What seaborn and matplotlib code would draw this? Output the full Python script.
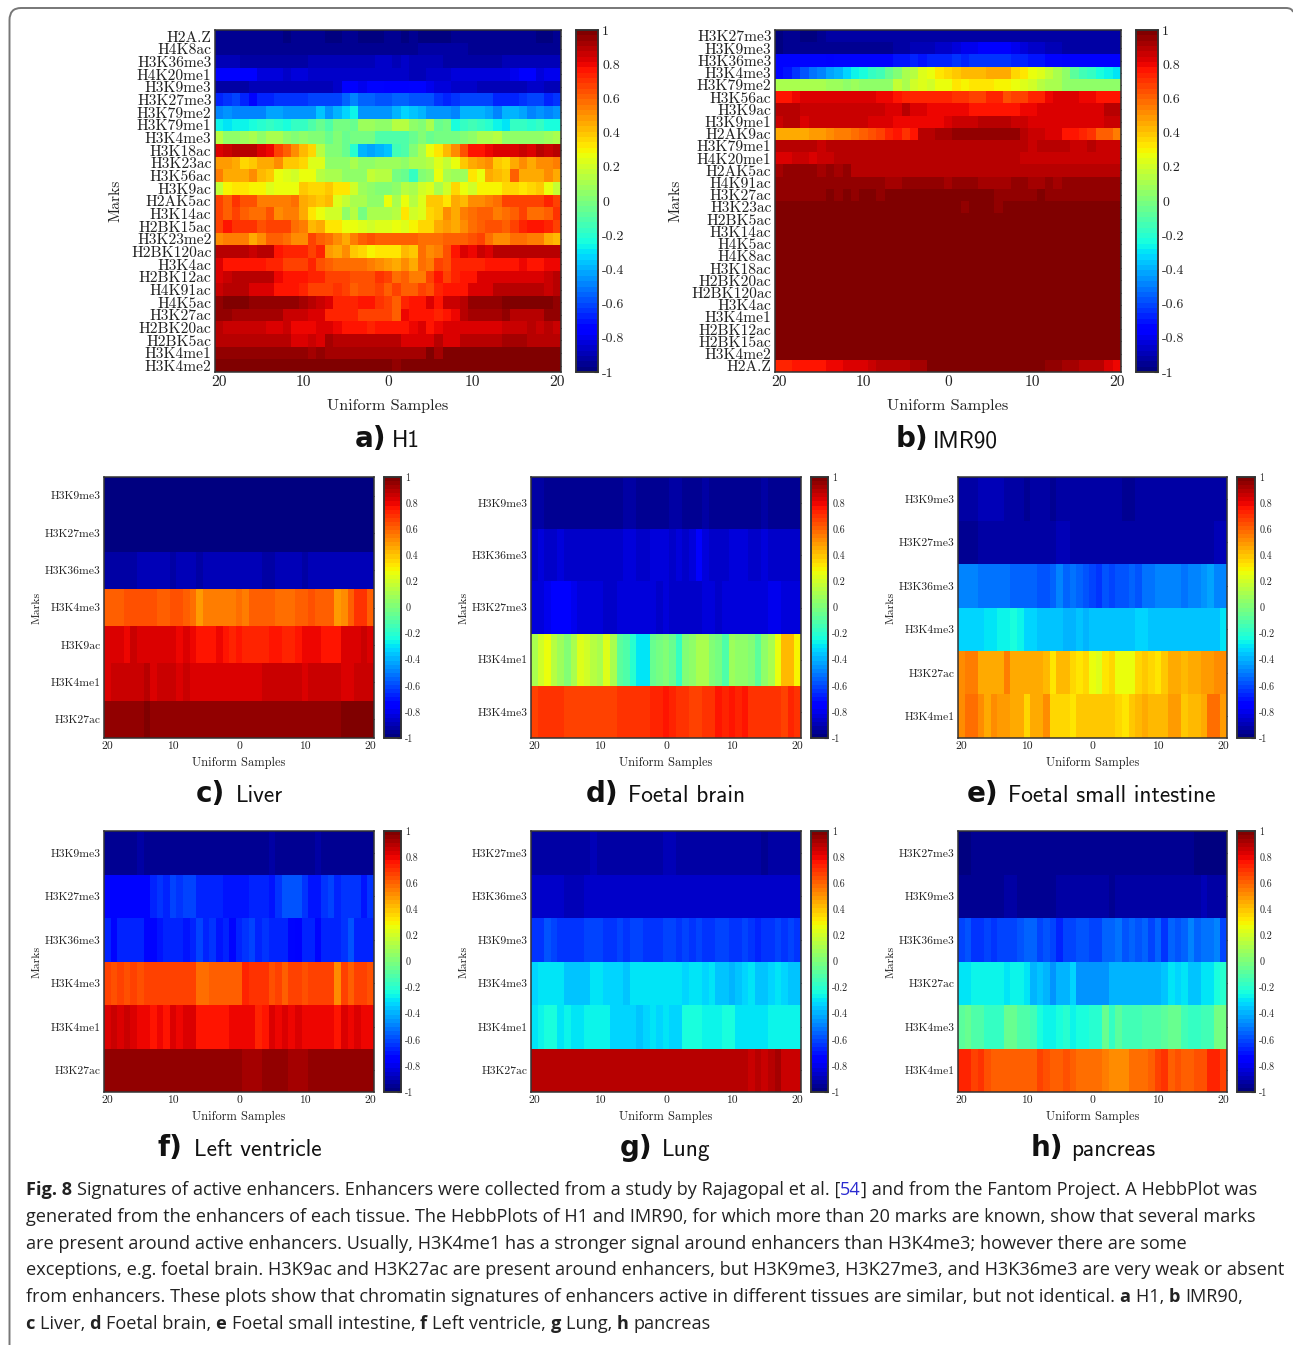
import matplotlib
matplotlib.use('Agg')
import matplotlib.pyplot as plt
from matplotlib.patches import PathPatch
from matplotlib.path import Path
import pandas as pd
import seaborn as sns

W, H = 1293, 1345

h1_marks = ['H2A.Z', 'H4K8ac', 'H3K36me3', 'H4K20me1', 'H3K9me3', 'H3K27me3', 'H3K79me2', 'H3K79me1', 'H3K4me3',
            'H3K18ac', 'H3K23ac', 'H3K56ac', 'H3K9ac', 'H2AK5ac', 'H3K14ac', 'H2BK15ac', 'H3K23me2', 'H2BK120ac',
            'H3K4ac', 'H2BK12ac', 'H4K91ac', 'H4K5ac', 'H3K27ac', 'H2BK20ac', 'H2BK5ac', 'H3K4me1', 'H3K4me2']
h1_values = [
    [-.95,-.95,-.95,-.95,-.95,-.95,-.95,-.96,-.97,-.95, -.95,-.95,-.96,-.97,-.97,-.96,-.95,-.97,-.97,-.97, -.96, -.96,-.98,-.96,-.97,-.98,-.98,-.98,-.96,-.96,-.96, -.96,-.96,-.94,-.95,-.95,-.95,-.95,-.97,-.97,-.96],
    [-.95,-.95,-.95,-.95,-.95,-.95,-.95,-.95,-.95,-.95, -.95,-.95,-.95,-.95,-.95,-.95,-.95,-.95,-.95,-.95, -.95, -.95,-.95,-.94,-.93,-.93,-.93,-.93,-.93,-.93,-.94, -.94,-.94,-.94,-.94,-.94,-.94,-.94,-.94,-.94,-.94],
    [-.9,-.89,-.89,-.92,-.92,-.92,-.92,-.92,-.92,-.92, -.92,-.9,-.9,-.9,-.9,-.9,-.9,-.88,-.88,-.87, -.86, -.88,-.86,-.88,-.9,-.9,-.9,-.92,-.93,-.93,-.93, -.93,-.93,-.92,-.9,-.9,-.9,-.9,-.9,-.9,-.9],
    [-.76,-.78,-.78,-.78,-.78,-.82,-.82,-.84,-.85,-.84, -.84,-.85,-.86,-.86,-.86,-.87,-.87,-.87,-.86,-.85, -.87, -.87,-.87,-.88,-.88,-.86,-.85,-.85,-.84,-.84,-.84, -.84,-.83,-.84,-.84,-.8,-.78,-.78,-.82,-.8,-.8],
    [-.92,-.92,-.92,-.93,-.9,-.9,-.9,-.88,-.9,-.9, -.88,-.88,-.88,-.88,-.85,-.78,-.76,-.8,-.72,-.72, -.76, -.76,-.76,-.72,-.74,-.8,-.82,-.84,-.86,-.86,-.86, -.88,-.88,-.9,-.9,-.88,-.88,-.86,-.86,-.9,-.9],
    [-.68,-.64,-.62,-.66,-.72,-.66,-.68,-.64,-.64,-.64, -.64,-.62,-.62,-.6,-.6,-.56,-.5,-.56,-.56,-.58, -.58, -.54,-.54,-.58,-.58,-.58,-.64,-.66,-.64,-.62,-.62, -.62,-.62,-.68,-.68,-.68,-.64,-.62,-.62,-.66,-.64],
    [-.5,-.44,-.48,-.5,-.5,-.5,-.42,-.42,-.46,-.46, -.44,-.44,-.36,-.44,-.4,-.34,-.28,-.46,-.46,-.46, -.44, -.38,-.34,-.36,-.4,-.44,-.44,-.44,-.48,-.38,-.4, -.38,-.42,-.48,-.4,-.38,-.42,-.5,-.44,-.48,-.46],
    [-.28,-.3,-.28,-.28,-.22,-.2,-.16,-.2,-.22,-.16, -.16,-.1,-.04,-.1,-.02,-.02,-.04,.08,.08,.06, .04, .14,.14,.04,.02,.1,-.06,-.02,-.24,-.16,-.14, -.16,-.2,-.26,-.3,-.16,-.16,-.2,-.16,-.22,-.24],
    [.14,.06,.06,.08,.1,.06,.1,.12,.04,.02, .06,.02,.02,-.04,.02,-.06,-.02,-.02,-.02,-.1, -.1, -.12,-.12,-.04,0,-.06,-.02,-.01,-.02,.02,.06, .1,.1,.14,.06,.04,.04,.06,.06,.08,.1],
    [.83,.87,.9,.9,.88,.83,.8,.68,.62,.52, .42,.35,.15,.02,0,-.05,-.2,-.4,-.42,-.38, -.35, -.15,-.1,0,.12,.28,.33,.42,.52,.64,.78, .78,.8,.82,.82,.84,.86,.84,.88,.86,.88],
    [.48,.48,.45,.36,.4,.45,.45,.52,.38,.38, .36,.22,.22,.06,.04,.04,.1,.05,.04,.08, .07, .08,.05,.1,.1,.14,.24,.18,.26,.4,.46, .48,.5,.4,.36,.44,.5,.46,.52,.52,.56],
    [.56,.45,.44,.44,.5,.42,.4,.28,.22,.2, .25,.25,.15,.12,.12,.06,.06,.06,.18,.15, .15, -.02,-.06,-.18,.02,.05,.25,.1,.08,.07,.32, .28,.44,.42,.4,.62,.45,.45,.45,.52,.45],
    [.18,.3,.32,.32,.3,.3,.24,.28,.28,.25, .38,.36,.36,.4,.32,.32,.2,.08,.05,.02, 0, .04,.14,.12,.2,.22,.1,.2,.36,.25,.2, .3,.3,.3,.36,.36,.34,.36,.38,.28,.18],
    [.68,.62,.7,.64,.64,.55,.55,.55,.55,.58, .44,.42,.38,.42,.24,.16,.12,.1,.04,.06, .25, .12,.26,.14,.22,.4,.4,.32,.44,.42,.52, .52,.55,.58,.68,.68,.68,.68,.68,.72,.68],
    [.66,.62,.68,.62,.58,.58,.64,.52,.54,.56, .46,.33,.28,.2,.2,.05,.14,-.02,.1,.1, .1, .14,.32,.2,.22,.35,.38,.52,.46,.54,.58, .62,.62,.56,.58,.62,.68,.58,.58,.62,.7],
    [.68,.76,.7,.7,.7,.64,.67,.67,.67,.58, .54,.42,.46,.34,.32,.26,.26,.22,.2,.24, .24, .28,.24,.3,.36,.36,.44,.48,.44,.52,.58, .62,.64,.64,.62,.67,.72,.76,.78,.72,.66],
    [.5,.56,.56,.54,.46,.5,.62,.62,.58,.52, .52,.68,.62,.58,.52,.44,.54,.62,.64,.62, .62, .6,.62,.62,.58,.58,.58,.62,.6,.62,.64, .66,.58,.5,.5,.58,.58,.54,.54,.46,.42],
    [.88,.88,.88,.88,.86,.9,.88,.78,.74,.74, .74,.68,.72,.48,.46,.5,.4,.36,.3,.34, .34, .34,.42,.4,.58,.52,.54,.64,.76,.82,.8, .85,.82,.88,.9,.9,.9,.88,.88,.88,.9],
    [.84,.76,.76,.76,.76,.76,.72,.72,.68,.68, .68,.74,.64,.62,.58,.58,.58,.58,.54,.52, .48, .46,.52,.46,.58,.54,.68,.64,.72,.72,.72, .72,.78,.76,.76,.76,.8,.76,.76,.8,.8],
    [.84,.85,.88,.88,.88,.9,.88,.8,.78,.76, .76,.72,.72,.68,.68,.68,.64,.64,.64,.7, .66, .58,.62,.54,.56,.66,.76,.68,.72,.76,.78, .82,.84,.84,.84,.84,.82,.82,.82,.86,.88],
    [.86,.88,.9,.88,.82,.84,.82,.76,.76,.76, .74,.68,.66,.66,.7,.66,.6,.64,.64,.68, .62, .68,.6,.6,.68,.64,.74,.76,.76,.78,.82, .84,.84,.88,.88,.88,.88,.88,.88,.86,.88],
    [.96,.98,.98,.98,.96,.94,.94,.94,.96,.96, .92,.88,.86,.82,.74,.74,.74,.76,.76,.7, .68, .6,.74,.76,.78,.82,.78,.86,.86,.9,.94, .94,.96,.94,.98,.98,.98,.98,.98,.98,.96],
    [.96,.96,.92,.92,.92,.92,.92,.92,.85,.86, .86,.82,.84,.72,.72,.72,.72,.68,.68,.68, .68, .62,.8,.76,.78,.78,.72,.78,.8,.88,.92, .92,.92,.92,.96,.9,.9,.9,.9,.96,.96],
    [.9,.86,.86,.86,.86,.86,.84,.84,.86,.8, .8,.8,.84,.84,.8,.76,.78,.78,.74,.76, .78, .75,.78,.8,.82,.76,.8,.84,.82,.82,.84, .84,.84,.84,.86,.86,.86,.9,.86,.9,.86],
    [.88,.88,.88,.88,.88,.88,.88,.88,.88,.84, .82,.86,.84,.92,.88,.88,.88,.88,.88,.88, .88, .88,.84,.84,.84,.84,.9,.84,.84,.88,.88, .9,.9,.9,.92,.92,.92,.9,.9,.9,.9],
    [.96,.96,.96,.96,.96,.96,.96,.96,.96,.96, .96,.92,.96,.93,.93,.93,.93,.93,.93,.93, .93, .93,.93,.93,.93,.97,.93,.97,.97,.97,.97, .97,.97,.97,.97,.97,.97,.97,.97,.97,.97],
    [1,1,1,1,1,1,1,1,1,1, 1,1,1,1,.98,.97,.98,.98,.98,.98, .98, .96,.98,.98,.98,1,1,1,1,1,1, 1,1,1,1,1,1,1,.98,.98,.98],
]

imr90_marks = ['H3K27me3', 'H3K9me3', 'H3K36me3', 'H3K4me3', 'H3K79me2', 'H3K56ac', 'H3K9ac', 'H3K9me1', 'H2AK9ac',
               'H3K79me1', 'H4K20me1', 'H2AK5ac', 'H4K91ac', 'H3K27ac', 'H3K23ac', 'H2BK5ac', 'H3K14ac', 'H4K5ac',
               'H4K8ac', 'H3K18ac', 'H2BK20ac', 'H2BK120ac', 'H3K4ac', 'H3K4me1', 'H2BK12ac', 'H2BK15ac',
               'H3K4me2', 'H2A.Z']
imr90_values = [
    [-.98,-.96,-.94,-.97,-.97,-.95,-.93,-.93,-.93,-.93, -.93,-.93,-.93,-.93,-.93,-.93,-.91,-.91,-.91,-.91, -.91, -.91,-.91,-.91,-.91,-.91,-.91,-.91,-.91,-.91,-.91, -.91,-.93,-.93,-.93,-.93,-.93,-.93,-.93,-.93,-.93],
    [-.98,-.96,-.95,-.95,-.95,-.95,-.95,-.95,-.95,-.95, -.95,-.95,-.95,-.95,-.93,-.93,-.9,-.9,-.9,-.86, -.86, -.83,-.8,-.8,-.78,-.78,-.78,-.78,-.8,-.82,-.85, -.87,-.9,-.9,-.92,-.92,-.92,-.92,-.92,-.92,-.92],
    [-.74,-.74,-.74,-.74,-.74,-.74,-.78,-.74,-.74,-.74, -.74,-.74,-.72,-.72,-.7,-.7,-.68,-.7,-.68,-.66, -.66, -.64,-.68,-.64,-.64,-.64,-.64,-.64,-.66,-.68,-.7, -.7,-.72,-.74,-.76,-.76,-.78,-.78,-.76,-.76,-.76],
    [-.75,-.7,-.65,-.58,-.52,-.48,-.42,-.38,-.32,-.26, -.25,-.18,-.14,-.05,.02,.1,.15,.22,.28,.34, .36, .4,.43,.43,.43,.44,.44,.44,.35,.33,.25, .22,.18,.12,.06,-.08,-.15,-.18,-.24,-.28,-.3],
    [.12,.12,.1,.1,.1,.1,.08,.08,.06,.07, .06,.06,.05,.05,.16,.12,.2,.24,.2,.26, .28, .34,.3,.32,.32,.34,.3,.3,.28,.24,.2, .14,.12,.1,.06,.05,.05,.05,.04,.04,.04],
    [.76,.76,.8,.82,.82,.82,.82,.82,.84,.84, .84,.84,.8,.8,.78,.74,.74,.72,.72,.72, .72, .7,.7,.68,.68,.72,.72,.64,.68,.68,.72, .72,.8,.82,.82,.82,.8,.8,.76,.76,.76],
    [.88,.88,.88,.86,.86,.86,.86,.86,.86,.86, .86,.86,.86,.84,.84,.88,.84,.84,.8,.8, .8, .8,.8,.78,.78,.78,.78,.78,.78,.8,.8, .84,.84,.84,.84,.84,.84,.84,.84,.88,.88],
    [.86,.9,.9,.82,.86,.86,.86,.86,.86,.86, .86,.82,.82,.82,.8,.8,.8,.8,.8,.8, .82, .86,.86,.86,.88,.88,.88,.88,.86,.86,.84, .84,.84,.84,.84,.84,.84,.84,.84,.86,.86],
    [.46,.46,.46,.46,.48,.48,.52,.56,.56,.58, .6,.65,.68,.72,.76,.7,.78,.88,.88,.92, .92, .95,.95,.95,.95,.95,.95,.95,.95,.9,.86, .85,.82,.82,.78,.76,.74,.7,.62,.6,.54],
    [.9,.9,.88,.88,.9,.86,.88,.88,.88,.88, .88,.88,.88,.88,.88,.88,.88,.88,.88,.88, .88, .88,.88,.88,.88,.88,.9,.88,.88,.88,.86, .88,.9,.9,.9,.86,.86,.88,.86,.86,.86],
    [.84,.84,.87,.87,.84,.85,.85,.88,.88,.88, .88,.88,.88,.88,.88,.88,.88,.88,.88,.88, .88, .88,.88,.9,.9,.88,.88,.88,.88,.86,.86, .86,.86,.86,.86,.86,.86,.86,.86,.86,.86],
    [.92,.94,.94,.94,.94,.92,.94,.92,.94,.9, .9,.9,.9,.9,.9,.88,.88,.88,.9,.9, .9, .88,.9,.9,.88,.9,.9,.88,.88,.88,.88, .88,.88,.88,.9,.9,.9,.9,.9,.9,.9],
    [.94,.94,.94,.94,.94,.94,.94,.94,.94,.94, .94,.94,.94,.92,.92,.94,.94,.94,.94,.94, .92, .94,.94,.94,.92,.92,.92,.92,.95,.95,.93, .93,.95,.93,.94,.94,.94,.94,.94,.94,.94],
    [.95,.95,.95,.95,.95,.95,.97,.95,.97,.95, .97,.97,.95,.98,.98,.98,.98,.98,.98,.98, .98, .98,.98,.98,.98,.98,.96,.96,.96,.96,.96, .98,.96,.96,.96,.96,.96,.96,.96,.96,.96],
    [.98,.98,.98,.98,.98,.98,.98,.98,.98,.98, .98,.98,.98,.98,.98,.98,.98,.98,.98,.98, .98, .98,.95,.98,.98,.98,.95,.98,.98,.98,.98, .98,.98,.98,.98,.98,.98,.98,.98,.98,.98],
    [.99] * 41,
    [.99] * 41,
    [.99] * 41,
    [.99] * 41,
    [.99] * 41,
    [.99] * 41,
    [.99] * 41,
    [.99] * 41,
    [.99] * 41,
    [.99] * 41,
    [.99] * 41,
    [.99] * 41,
    [.74,.74,.78,.78,.78,.78,.8,.8,.82,.82, .84,.86,.88,.88,.9,.9,.92,.92,.98,.98, .98, .98,.98,.98,.98,.98,.98,.98,.98,.98,.98, .98,.94,.94,.92,.92,.9,.9,.88,.84,.8],
]

liver_marks = ['H3K9me3', 'H3K27me3', 'H3K36me3', 'H3K4me3', 'H3K9ac', 'H3K4me1', 'H3K27ac']
liver_values = [
    [-.97] * 41,
    [-.97] * 41,
    [-.92,-.92,-.92,-.92,-.92,-.9,-.89,-.89,-.89,-.89, -.91,-.89,-.89,-.89,-.91,-.89,-.89,-.89,-.89,-.89, -.89, -.89,-.89,-.89,-.91,-.91,-.89,-.89,-.89,-.89,-.91, -.89,-.89,-.89,-.89,-.89,-.89,-.89,-.89,-.89,-.89],
    [.6,.61,.61,.63,.63,.63,.63,.65,.6,.6, .63,.63,.61,.58,.47,.54,.54,.54,.54,.54, .58, .54,.6,.6,.6,.6,.58,.58,.58,.6,.62, .65,.6,.6,.6,.47,.52,.62,.69,.69,.62],
    [.82,.82,.84,.81,.85,.82,.82,.82,.82,.82, .82,.8,.82,.81,.76,.77,.77,.81,.78,.74, .77, .74,.72,.72,.72,.76,.76,.72,.72,.76,.79, .79,.79,.77,.77,.77,.82,.82,.82,.85,.82],
    [.84,.87,.87,.87,.87,.87,.88,.84,.86,.86, .86,.83,.86,.84,.82,.84,.84,.84,.84,.82, .82, .82,.82,.82,.85,.85,.85,.85,.85,.87,.84, .87,.87,.85,.85,.85,.84,.84,.87,.87,.87],
    [.95,.95,.95,.95,.95,.95,.98,.94,.94,.94, .94,.94,.94,.94,.94,.94,.94,.94,.94,.94, .94, .94,.94,.94,.94,.94,.94,.94,.94,.94,.94, .94,.94,.94,.94,.94,.99,.99,.99,.99,.99],
]

brain_marks = ['H3K9me3', 'H3K36me3', 'H3K27me3', 'H3K4me1', 'H3K4me3']
brain_values = [
    [-.93,-.93,-.96,-.96,-.96,-.96,-.96,-.96,-.96,-.96, -.96,-.96,-.96,-.96,-.93,-.93,-.96,-.96,-.96,-.96, -.96, -.93,-.93,-.95,-.95,-.95,-.92,-.96,-.96,-.96,-.96, -.96,-.96,-.96,-.96,-.93,-.96,-.96,-.96,-.96,-.96],
    [-.86,-.83,-.86,-.86,-.84,-.86,-.86,-.86,-.86,-.86, -.86,-.86,-.86,-.86,-.84,-.84,-.86,-.86,-.84,-.84, -.84, -.86,-.84,-.86,-.82,-.78,-.84,-.86,-.86,-.86,-.84, -.84,-.84,-.87,-.87,-.84,-.87,-.86,-.86,-.86,-.86],
    [-.84,-.82,-.8,-.78,-.76,-.76,-.8,-.82,-.82,-.83, -.83,-.86,-.87,-.84,-.84,-.84,-.84,-.84,-.84,-.86, -.84, -.86,-.86,-.86,-.86,-.86,-.84,-.84,-.86,-.82,-.82, -.82,-.82,-.82,-.82,-.82,-.8,-.8,-.84,-.84,-.84],
    [.12,.2,.26,.14,.08,.02,.1,.24,.2,.14, .12,.24,.12,-.08,-.12,-.2,-.3,-.3,-.06,-.02, 0, -.06,-.16,.02,.04,.1,.1,.02,-.02,-.1, .08,.06,.04,0,-.08,.04,.1,.26,.42,.42,.3],
    [.68,.71,.69,.71,.7,.68,.66,.67,.67,.67, .67,.67,.66,.71,.71,.71,.7,.71,.73,.73, .76, .72,.69,.69,.67,.67,.7,.7,.76,.73,.76, .73,.76,.71,.7,.7,.7,.69,.67,.72,.69],
]

intestine_marks = ['H3K9me3', 'H3K27me3', 'H3K36me3', 'H3K4me3', 'H3K27ac', 'H3K4me1']
intestine_values = [
    [-.91,-.91,-.91,-.9,-.9,-.9,-.9,-.91,-.91,-.91, -.94,-.92,-.92,-.92,-.95,-.93,-.92,-.92,-.92,-.92, -.92, -.92,-.92,-.92,-.92,-.94,-.94,-.92,-.92,-.92,-.92, -.92,-.92,-.92,-.92,-.92,-.92,-.92,-.92,-.92,-.92],
    [-.94,-.94,-.94,-.92,-.92,-.92,-.92,-.92,-.91,-.92, -.92,-.92,-.92,-.92,-.92,-.9,-.9,-.92,-.92,-.92, -.92, -.92,-.92,-.92,-.92,-.92,-.92,-.92,-.92,-.92,-.92, -.92,-.92,-.92,-.92,-.92,-.92,-.92,-.92,-.9,-.9],
    [-.5,-.5,-.48,-.52,-.52,-.52,-.52,-.52,-.54,-.56, -.54,-.56,-.58,-.58,-.54,-.5,-.54,-.52,-.54,-.58, -.62, -.64,-.58,-.62,-.58,-.58,-.56,-.58,-.52,-.52,-.48, -.5,-.5,-.48,-.52,-.5,-.5,-.46,-.42,-.5,-.48],
    [-.34,-.33,-.32,-.32,-.29,-.29,-.27,-.27,-.22,-.27, -.34,-.34,-.35,-.35,-.35,-.37,-.38,-.38,-.37,-.38, -.37, -.36,-.37,-.36,-.36,-.36,-.36,-.34,-.34,-.36,-.36, -.36,-.36,-.36,-.36,-.36,-.36,-.36,-.36,-.36,-.29],
    [.5,.55,.55,.46,.46,.44,.44,.55,.44,.44, .44,.44,.44,.42,.32,.42,.42,.36,.32,.36, .27, .22,.32,.36,.27,.27,.27,.36,.38,.36,.32, .38,.44,.44,.42,.44,.44,.48,.48,.5,.5],
    [.52,.58,.58,.5,.44,.52,.48,.48,.46,.46, .36,.46,.46,.5,.36,.36,.36,.34,.38,.38, .4, .4,.38,.38,.36,.32,.38,.42,.46,.42,.42, .42,.48,.48,.38,.42,.42,.44,.58,.58,.48],
]

ventricle_marks = ['H3K9me3', 'H3K27me3', 'H3K36me3', 'H3K4me3', 'H3K4me1', 'H3K27ac']
ventricle_values = [
    [-.95,-.95,-.95,-.95,-.95,-.93,-.95,-.95,-.95,-.95, -.95,-.95,-.95,-.95,-.95,-.95,-.95,-.95,-.95,-.95, -.95, -.95,-.95,-.95,-.95,-.93,-.95,-.95,-.95,-.95,-.95, -.95,-.93,-.95,-.95,-.95,-.95,-.95,-.95,-.95,-.95],
    [-.72,-.72,-.72,-.72,-.72,-.72,-.72,-.66,-.64,-.66, -.62,-.64,-.62,-.62,-.66,-.66,-.66,-.68,-.7,-.7, -.7, -.7,-.66,-.66,-.68,-.7,-.64,-.58,-.58,-.58,-.64, -.7,-.7,-.64,-.62,-.66,-.64,-.64,-.64,-.7,-.64],
    [-.68,-.72,-.68,-.68,-.68,-.68,-.72,-.75,-.7,-.66, -.68,-.68,-.7,-.66,-.62,-.68,-.64,-.7,-.68,-.74, -.68, -.64,-.6,-.68,-.64,-.68,-.68,-.66,-.74,-.76,-.66, -.68,-.72,-.68,-.68,-.66,-.64,-.58,-.68,-.68,-.68],
    [.67,.64,.67,.64,.66,.64,.68,.68,.66,.68, .68,.68,.66,.68,.58,.58,.62,.6,.62,.6, .6, .72,.7,.7,.7,.64,.66,.62,.66,.66,.64, .66,.68,.68,.68,.5,.66,.62,.66,.68,.64],
    [.82,.85,.82,.85,.84,.81,.81,.78,.81,.78, .82,.81,.82,.82,.76,.76,.76,.76,.78,.79, .79, .79,.79,.74,.76,.82,.79,.82,.79,.82,.81, .81,.79,.79,.81,.76,.82,.81,.84,.8,.8],
    [.94,.96,.96,.96,.96,.96,.96,.96,.96,.96, .96,.96,.96,.96,.96,.96,.96,.96,.96,.96, .96, .93,.93,.93,.96,.96,.96,.96,.93,.93,.93, .96,.96,.96,.96,.96,.96,.96,.96,.94,.96],
]

lung_marks = ['H3K27me3', 'H3K36me3', 'H3K9me3', 'H3K4me3', 'H3K4me1', 'H3K27ac']
lung_values = [
    [-.92,-.92,-.92,-.92,-.92,-.92,-.92,-.92,-.92,-.9, -.92,-.92,-.92,-.92,-.92,-.92,-.92,-.92,-.92,-.92, -.9, -.9,-.92,-.92,-.92,-.92,-.92,-.92,-.92,-.92,-.92, -.92,-.92,-.92,-.92,-.95,-.92,-.92,-.92,-.92,-.92],
    [-.87,-.87,-.87,-.87,-.87,-.89,-.89,-.89,-.87,-.87, -.87,-.87,-.87,-.87,-.85,-.87,-.87,-.87,-.87,-.87, -.87, -.87,-.87,-.87,-.87,-.87,-.87,-.87,-.87,-.87,-.85, -.85,-.87,-.87,-.87,-.87,-.87,-.87,-.87,-.87,-.87],
    [-.64,-.64,-.58,-.62,-.64,-.64,-.64,-.64,-.6,-.62, -.6,-.64,-.64,-.6,-.64,-.6,-.6,-.64,-.64,-.64, -.6, -.6,-.64,-.6,-.64,-.6,-.64,-.64,-.6,-.6,-.64, -.64,-.6,-.64,-.67,-.64,-.64,-.6,-.64,-.6,-.64],
    [-.33,-.31,-.29,-.29,-.29,-.35,-.37,-.37,-.35,-.31, -.31,-.33,-.33,-.33,-.37,-.31,-.29,-.29,-.31,-.31, -.29, -.29,-.31,-.33,-.31,-.29,-.33,-.31,-.35,-.35,-.38, -.35,-.33,-.31,-.35,-.35,-.33,-.31,-.33,-.37,-.37],
    [-.3,-.28,-.22,-.22,-.3,-.28,-.29,-.29,-.26,-.26, -.28,-.28,-.32,-.32,-.32,-.32,-.36,-.32,-.3,-.34, -.3, -.32,-.32,-.22,-.22,-.22,-.28,-.28,-.28,-.25,-.25, -.3,-.3,-.3,-.3,-.3,-.28,-.28,-.28,-.28,-.28],
    [.88,.88,.88,.88,.88,.88,.88,.88,.88,.88, .88,.88,.88,.88,.88,.88,.88,.88,.88,.88, .88, .88,.88,.88,.88,.88,.88,.88,.88,.88,.88, .88,.88,.87,.9,.87,.9,.92,.87,.87,.87],
]

pancreas_marks = ['H3K27me3', 'H3K9me3', 'H3K36me3', 'H3K27ac', 'H3K4me3', 'H3K4me1']
pancreas_values = [
    [-.97,-.97,-.95,-.96,-.96,-.96,-.96,-.96,-.96,-.96, -.96,-.96,-.95,-.96,-.96,-.96,-.96,-.96,-.96,-.96, -.96, -.96,-.96,-.96,-.96,-.96,-.96,-.96,-.96,-.96,-.96, -.96,-.96,-.96,-.94,-.94,-.97,-.97,-.97,-.97,-.97],
    [-.94,-.94,-.94,-.94,-.94,-.94,-.94,-.91,-.93,-.94, -.94,-.94,-.94,-.94,-.94,-.93,-.93,-.93,-.93,-.93, -.93, -.93,-.93,-.94,-.93,-.93,-.93,-.93,-.93,-.93,-.93, -.93,-.93,-.93,-.93,-.93,-.93,-.9,-.93,-.93,-.93],
    [-.6,-.58,-.63,-.63,-.6,-.65,-.62,-.62,-.62,-.58, -.56,-.56,-.62,-.58,-.62,-.66,-.62,-.62,-.58,-.58, -.62, -.62,-.56,-.56,-.52,-.58,-.54,-.58,-.54,-.6,-.54, -.63,-.56,-.58,-.54,-.5,-.54,-.52,-.52,-.5,-.6],
    [-.3,-.3,-.28,-.28,-.28,-.28,-.26,-.3,-.28,-.28, -.3,-.38,-.35,-.4,-.46,-.4,-.4,-.34,-.44,-.44, -.44, -.44,-.44,-.4,-.4,-.4,-.38,-.38,-.4,-.4,-.38, -.35,-.3,-.33,-.3,-.37,-.37,-.3,-.3,-.25,-.2],
    [-.08,-.06,-.12,-.1,-.18,-.18,-.18,-.06,-.04,-.12, -.12,-.14,-.24,-.28,-.28,-.22,-.2,-.28,-.24,-.22, -.2, -.2,-.06,-.18,-.08,-.15,-.15,-.15,-.12,-.12,-.1, -.08,-.06,-.06,-.15,-.18,-.18,-.14,-.14,-.02,-.02],
    [.72,.72,.66,.7,.64,.6,.62,.62,.62,.62, .6,.62,.68,.64,.62,.62,.64,.62,.58,.58, .58, .58,.56,.5,.5,.5,.58,.58,.58,.62,.66, .7,.62,.64,.62,.62,.64,.64,.72,.72,.66],
]

x_tick_labels = ['20', '10', '0', '10', '20']
cbar_ticks = [1, 0.8, 0.6, 0.4, 0.2, 0, -0.2, -0.4, -0.6, -0.8, -1]
cbar_tick_labels = ['1', '0.8', '0.6', '0.4', '0.2', '0', '-0.2', '-0.4', '-0.6', '-0.8', '-1']


def px_box(x0, y0, x1, y1):
    """Axes rectangle from picture pixels."""
    return [x0 / W, 1 - y1 / H, (x1 - x0) / W, (y1 - y0) / H]


def draw_panel(fig, marks, values, x0, y0, x1, cbar_x0, cbar_x1, y1, font, cbar_font, xlabel_pad, ylabel_pad):
    """One HebbPlot with its colorbar."""
    ax = fig.add_axes(px_box(x0, y0, x1, y1))
    cax = fig.add_axes(px_box(cbar_x0, y0, cbar_x1, y1))
    df = pd.DataFrame(values, index=marks)
    sns.heatmap(df, ax=ax, cbar_ax=cax, cmap=jet, vmin=-1, vmax=1, xticklabels=False, yticklabels=False,
                rasterized=True)
    ax.set_xticks([0.5, 10.5, 20.5, 30.5, 40.5])
    ax.set_xticklabels(x_tick_labels, fontsize=font)
    ax.set_yticks([i + 0.5 for i in range(len(marks))])
    ax.set_yticklabels(marks, fontsize=font, rotation=0)
    ax.tick_params(direction='in', length=3, width=0.8, top=True, right=True, color='#222222',
                   labelcolor='#222222', pad=2.5)
    for spine in ax.spines.values():
        spine.set_visible(True)
        spine.set_linewidth(1.1)
        spine.set_color('#333333')
    ax.set_xlabel('Uniform Samples', fontsize=font + 0.5, color='#222222', labelpad=xlabel_pad)
    ax.set_ylabel('Marks', fontsize=font, color='#222222', labelpad=ylabel_pad)

    cax.set_yticks(cbar_ticks)
    cax.set_yticklabels(cbar_tick_labels, fontsize=cbar_font)
    cax.tick_params(direction='in', length=3, width=0.8, color='#222222', labelcolor='#222222', pad=3)
    for spine in cax.spines.values():
        spine.set_visible(True)
        spine.set_linewidth(1.1)
        spine.set_color('#333333')


def caption(fig, letter, name, x_letter, x_name, y):
    fig.text(x_letter / W, 1 - y / H, letter, fontsize=20, fontweight='bold', family='DejaVu Sans',
             va='baseline', color='#111111')
    fig.text(x_name / W, 1 - y / H, name, fontsize=16.8, family='cmss10', va='baseline', color='#111111')


def text_runs(fig, runs, x, y):
    """Write one caption line made of plain, bold and blue pieces."""
    renderer = fig.canvas.get_renderer()
    for piece, weight, color in runs:
        t = fig.text(x / W, 1 - y / H, piece, fontsize=13.1, family='Open Sans', fontweight=weight, color=color,
                     va='baseline')
        x += t.get_window_extent(renderer).width


sns.set_theme(style='white')
plt.rcParams['font.family'] = ['cmr10', 'DejaVu Serif']
plt.rcParams['axes.formatter.use_mathtext'] = True
plt.rcParams['axes.unicode_minus'] = False
jet = plt.get_cmap('jet', 64)

fig = plt.figure(figsize=(W / 100, H / 100), dpi=100)

draw_panel(fig, h1_marks, h1_values, 215, 30, 561, 576, 598, 372, 11.2, 10, 7, 6)
draw_panel(fig, imr90_marks, imr90_values, 775, 30, 1121, 1136, 1158, 372, 11.2, 10, 7, 6)
draw_panel(fig, liver_marks, liver_values, 104, 477, 374, 384, 401, 738, 8.4, 7.2, 4, 2)
draw_panel(fig, brain_marks, brain_values, 531, 477, 801, 811, 828, 738, 8.4, 7.2, 4, 2)
draw_panel(fig, intestine_marks, intestine_values, 958, 477, 1227, 1237, 1255, 738, 8.4, 7.2, 4, 2)
draw_panel(fig, ventricle_marks, ventricle_values, 104, 831, 374, 384, 401, 1092, 8.4, 7.2, 4, 2)
draw_panel(fig, lung_marks, lung_values, 531, 831, 801, 811, 828, 1092, 8.4, 7.2, 4, 2)
draw_panel(fig, pancreas_marks, pancreas_values, 958, 831, 1227, 1237, 1255, 1092, 8.4, 7.2, 4, 2)

caption(fig, 'a)', 'H1', 355, 392, 447)
caption(fig, 'b)', 'IMR90', 896, 933, 447)
caption(fig, 'c)', 'Liver', 196, 236, 802)
caption(fig, 'd)', 'Foetal brain', 586, 628, 802)
caption(fig, 'e)', 'Foetal small intestine', 967, 1008, 802)
caption(fig, 'f)', 'Left ventricle', 158, 194, 1156)
caption(fig, 'g)', 'Lung', 620, 662, 1156)
caption(fig, 'h)', 'pancreas', 1031, 1071, 1156)

plain, bold, ink = 'normal', 'bold', '#222222'
text_runs(fig, [('Fig. 8 ', bold, ink),
                ('Signatures of active enhancers. Enhancers were collected from a study by Rajagopal et al. [', plain, ink),
                ('54', plain, '#2a2ad0'),
                ('] and from the Fantom Project. A HebbPlot was', plain, ink)], 26, 1195)
text_runs(fig, [('generated from the enhancers of each tissue. The HebbPlots of H1 and IMR90, for which more than 20 marks are known, show that several marks', plain, ink)], 26, 1222)
text_runs(fig, [('are present around active enhancers. Usually, H3K4me1 has a stronger signal around enhancers than H3K4me3; however there are some', plain, ink)], 26, 1249)
text_runs(fig, [('exceptions, e.g. foetal brain. H3K9ac and H3K27ac are present around enhancers, but H3K9me3, H3K27me3, and H3K36me3 are very weak or absent', plain, ink)], 26, 1275)
text_runs(fig, [('from enhancers. These plots show that chromatin signatures of enhancers active in different tissues are similar, but not identical. ', plain, ink),
                ('a ', bold, ink), ('H1, ', plain, ink), ('b ', bold, ink), ('IMR90,', plain, ink)], 26, 1302)
text_runs(fig, [('c ', bold, ink), ('Liver, ', plain, ink), ('d ', bold, ink), ('Foetal brain, ', plain, ink),
                ('e ', bold, ink), ('Foetal small intestine, ', plain, ink), ('f ', bold, ink), ('Left ventricle, ', plain, ink),
                ('g ', bold, ink), ('Lung, ', plain, ink), ('h ', bold, ink), ('pancreas', plain, ink)], 26, 1329)

# Page frame: left edge and top edge, rounded corners
frame = Path([(9.5 / W, 0), (9.5 / W, 1 - 20 / H), (9.5 / W, 1 - 8 / H), (21 / W, 1 - 8 / H),
              (1286 / W, 1 - 8 / H), (1292 / W, 1 - 8 / H), (1293 / W, 1 - 12 / H)],
             [Path.MOVETO, Path.LINETO, Path.CURVE3, Path.CURVE3, Path.LINETO, Path.CURVE3, Path.CURVE3])
fig.add_artist(PathPatch(frame, fc='none', ec='#777777', lw=1.4, transform=fig.transFigure))

plt.savefig('out.png', dpi=100)
plt.close()
